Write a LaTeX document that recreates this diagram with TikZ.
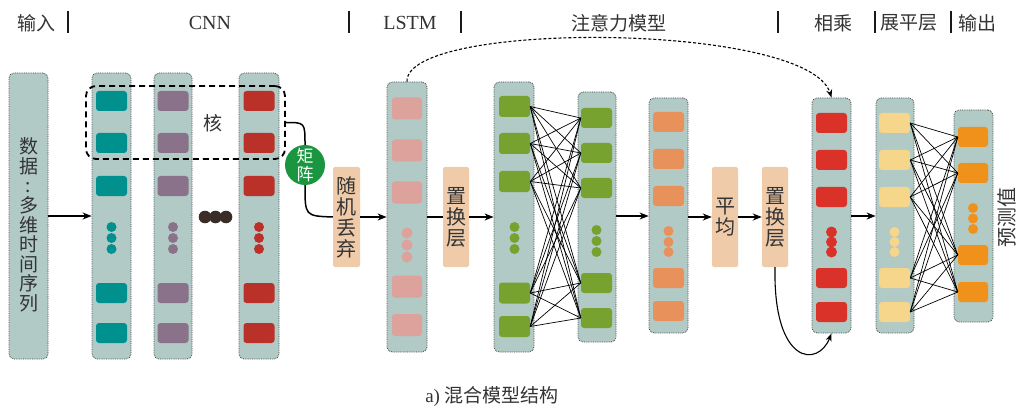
\documentclass[tikz,border=0pt]{standalone}
\usepackage{fontspec}
\setmainfont{Liberation Serif}
\newfontfamily\cjk{Noto Sans CJK SC}
\usetikzlibrary{arrows.meta}
\definecolor{colbg}{HTML}{B1CAC6}
\definecolor{colborder}{HTML}{454545}
\definecolor{tealc}{HTML}{00918F}
\definecolor{purplec}{HTML}{8A738A}
\definecolor{darkredc}{HTML}{B93129}
\definecolor{pinkc}{HTML}{DDA29C}
\definecolor{greenc}{HTML}{77A22F}
\definecolor{salmonc}{HTML}{E9915A}
\definecolor{redc}{HTML}{DA3129}
\definecolor{yellowc}{HTML}{F6D68A}
\definecolor{orangec}{HTML}{F0911C}
\definecolor{peachc}{HTML}{F0CBA9}
\definecolor{circc}{HTML}{19963F}
\definecolor{dotc}{HTML}{3A2C26}
\definecolor{textc}{HTML}{333333}
\begin{document}
\begin{tikzpicture}[x=1pt,y=-1pt,
  colbox/.style={rectangle, rounded corners=5pt, fill=colbg, draw=colborder, densely dotted, line width=0.8pt, inner sep=0pt},
  cell/.style={rectangle, rounded corners=3pt, minimum width=31pt, minimum height=20pt, inner sep=0pt},
  peach/.style={rectangle, rounded corners=2pt, fill=peachc, minimum width=27pt, minimum height=100pt, inner sep=0pt, align=center, text=textc, font=\cjk\fontsize{20}{21}\selectfont},
  head/.style={inner sep=0pt, text=textc, font=\cjk\fontsize{19}{19}\selectfont},
  headl/.style={inner sep=0pt, text=textc, font=\fontsize{20}{20}\selectfont},
  bar/.style={line width=2.5pt, draw=black!90},
  arr/.style={-{Stealth[length=9pt,width=7pt]}, line width=1.5pt},
  plain/.style={line width=1.5pt},
  web/.style={line width=0.7pt, black}]
\useasboundingbox (0,0) rectangle (1019,406);

% headers
\node[head] (hin) at (36,23) {输入};
\node[headl] (hcnn) at (210,23) {CNN};
\node[headl] (hlstm) at (410,23) {LSTM};
\node[head] (hatt) at (619,23) {注意力模型};
\node[head] (hmul) at (833,23) {相乘};
\node[head] (hflat) at (909,23) {展平层};
\node[head] (hout) at (977,23) {输出};
\foreach \x in {68,349,461,778,875,951} \draw[bar] (\x,11) -- (\x,33);

% input
\node[colbox, minimum width=39pt, minimum height=286pt] (inp) at (28.5,216) {};
\node[inner sep=0pt, align=center, text=textc, font=\cjk\fontsize{19}{19.6}\selectfont] (inptext) at (28.5,225)
  {数\\据\\:\\多\\维\\时\\间\\序\\列};

% CNN columns
\node[colbox, minimum width=39pt, minimum height=286pt] (c1) at (111.5,216) {};
\node[colbox, minimum width=38pt, minimum height=286pt] (c2) at (173,216) {};
\node[colbox, minimum width=40pt, minimum height=286pt] (c3) at (259,216) {};
\foreach \y [count=\i] in {101,143,186,293,333} {
  \node[cell, fill=tealc] (c1r\i) at (111.5,\y) {};
  \node[cell, fill=purplec] (c2r\i) at (173,\y) {};
  \node[cell, fill=darkredc] (c3r\i) at (259,\y) {};
}
\foreach \y in {227,238,249} {
  \fill[tealc] (111.5,\y) circle (5);
  \fill[purplec] (173,\y) circle (5);
  \fill[darkredc] (259,\y) circle (5);
}
\foreach \x in {205,215.5,226} \fill[dotc] (\x,217) circle (6.3);

% kernel
\node[draw, dashed, dash pattern=on 6pt off 4pt, line width=1.8pt, rounded corners=10pt, minimum width=199pt, minimum height=73pt, inner sep=0pt] (kern) at (185.5,122.5) {};
\node[head] (kerntext) at (213,123) {核};

% matrix circle
\node[circle, fill=circc, minimum size=40pt, inner sep=0pt, align=center, text=white, font=\cjk\fontsize{17}{18}\selectfont] (circ) at (305,165) {矩\\阵};

% dropout
\node[peach] (rand) at (346.5,217) {随\\机\\丢\\弃};

% LSTM
\node[colbox, minimum width=40pt, minimum height=270pt] (lstm) at (407,217) {};
\foreach \y [count=\i] in {108.5,150.5,192.5,286.5,325} \node[cell, minimum width=30pt, minimum height=22pt, fill=pinkc] (lr\i) at (407,\y) {};
\foreach \y in {233,245,257} \fill[pinkc] (407,\y) circle (5.5);

% permute 1
\node[peach, minimum width=26pt] (perm1) at (456,217) {置\\换\\层};

% attention green columns
\node[colbox, minimum width=40pt, minimum height=270pt] (g1) at (514,217) {};
\foreach \y [count=\i] in {106.5,143.5,181.5,293,326.5} \node[cell, minimum height=21pt, fill=greenc] (g1r\i) at (514.5,\y) {};
\foreach \y in {227,238,249} \fill[greenc] (514.5,\y) circle (5);
\node[colbox, minimum width=38pt, minimum height=250pt] (g2) at (597,217) {};
\foreach \y [count=\i] in {118,153,188,283,318} \node[cell, fill=greenc] (g2r\i) at (596.5,\y) {};
\foreach \y in {230,241,252} \fill[greenc] (596.5,\y) circle (5);
\foreach \i in {1,...,5} \foreach \j in {1,...,5} \draw[web] (g1r\i.east) -- (g2r\j.west);

% salmon column
\node[colbox, minimum width=39pt, minimum height=235pt] (o1) at (668.5,215.5) {};
\foreach \y [count=\i] in {122,159,196,278,311} \node[cell, fill=salmonc] (o1r\i) at (668.5,\y) {};
\foreach \y in {231,242,252} \fill[salmonc] (668.5,\y) circle (5);

% average and permute 2
\node[peach, minimum width=26pt] (avg) at (725,217) {平\\均};
\node[peach, minimum width=26pt] (perm2) at (775,217) {置\\换\\层};

% multiply column
\node[colbox, minimum width=39pt, minimum height=235pt] (m) at (831.5,215.5) {};
\foreach \y [count=\i] in {123,160,197,278,312} \node[cell, fill=redc] (mr\i) at (831.5,\y) {};
\foreach \y in {232,242,252} \fill[redc] (831.5,\y) circle (5.5);

% flatten column
\node[colbox, minimum width=38pt, minimum height=235pt] (f) at (895,215.5) {};
\foreach \y [count=\i] in {123,160,197,278,312} \node[cell, fill=yellowc] (fr\i) at (894.5,\y) {};
\foreach \y in {232,242,252} \fill[yellowc] (894.5,\y) circle (5);

% output column
\node[colbox, minimum width=39pt, minimum height=212pt] (out) at (973.5,216) {};
\foreach \y [count=\i] in {137,173,255,292} \node[cell, minimum width=30pt, fill=orangec] (outr\i) at (973,\y) {};
\foreach \y in {208,218.5,229} \fill[orangec] (973,\y) circle (5);
\foreach \i in {1,...,5} \foreach \j in {1,...,4} \draw[web] (fr\i.east) -- (outr\j.west);
\node[inner sep=0pt, rotate=90, text=textc, font=\cjk\fontsize{20}{20}\selectfont] (pred) at (1007,217) {预测值};

% connectors
\draw[arr] (inp.east |- 0,216) -- (c1.west |- 0,216);
\draw[plain] (kern.east) .. controls (305,122.5) .. (circ.north);
\draw[plain] (circ.south) .. controls (305,216) .. (rand.west);
\draw[arr] (rand.east) -- (lstm.west |- rand.east);
\draw[plain] (lstm.east |- perm1.west) -- (perm1.west);
\draw[arr] (perm1.east) -- (g1.west |- perm1.east);
\draw[arr] (g2.east |- 0,216) -- (o1.west |- 0,216);
\draw[arr] (o1.east |- avg.west) -- (avg.west);
\draw[arr] (avg.east) -- (perm2.west);
\draw[arr] (m.east |- 0,216) -- (f.west |- 0,216);
\draw[-{Stealth[length=8pt,width=6pt]}, line width=1.1pt] (perm2.south) .. controls (773,365) and (818,368) .. (m.south);
\draw[-{Stealth[length=8pt,width=6pt]}, line width=1.1pt, dash pattern=on 3pt off 2pt] (lstm.north) .. controls (405,20) and (808,22) .. (m.north);

% caption
\node[inner sep=0pt, text=textc, font=\fontsize{19}{19}\selectfont] (cap) at (492,397) {a) {\cjk 混合模型结构}};
\end{tikzpicture}
\end{document}
